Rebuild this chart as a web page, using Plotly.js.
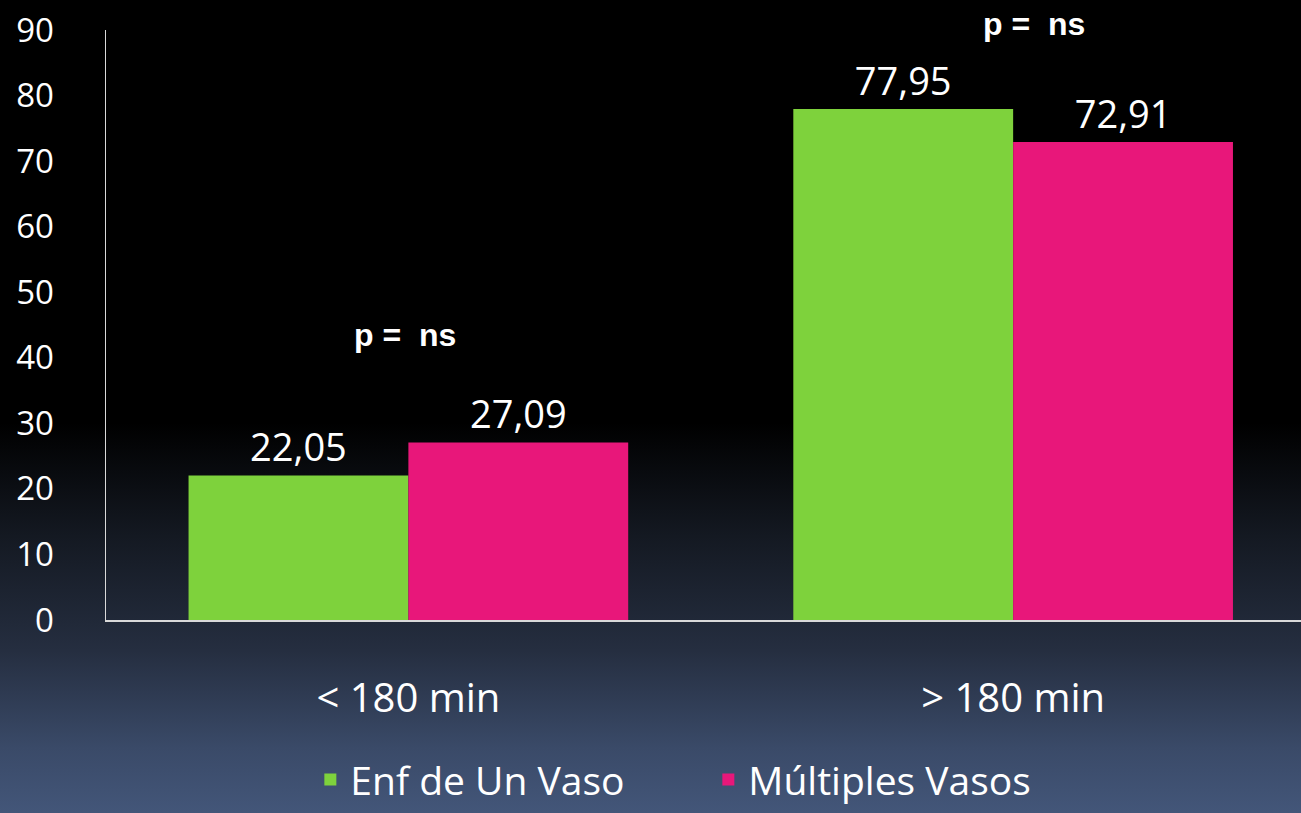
<!DOCTYPE html>
<html>
<head>
<meta charset="utf-8">
<script src="https://cdn.plot.ly/plotly-3.0.1.min.js"></script>
<style>
  html, body { margin: 0; padding: 0; }
  body { width: 1301px; height: 813px; overflow: hidden;
    background: linear-gradient(to bottom, #000000 0%, #000000 52%, #141922 66%, #252e40 80%, #3a4a68 92%, #435679 100%); }
  #chart { width: 1301px; height: 813px; }
</style>
</head>
<body>
<div id="chart"></div>
<script>
const categories = ["< 180 min", "> 180 min"];
const seriesNames = ["Enf de Un Vaso", "Múltiples Vasos"];
const unVaso = [22.05, 77.95];
const multiples = [27.09, 72.91];
const yTicks = [0, 10, 20, 30, 40, 50, 60, 70, 80, 90];
const pLabels = ["p =&nbsp;&nbsp;ns", "p =&nbsp;&nbsp;ns"];
const colors = ["#7ED23C", "#E8177A"];

const labelFont = { family: "Open Sans, Lato, sans-serif", size: 38, color: "#ffffff" };

const traces = [
  { type: "bar", name: seriesNames[0], x: categories, y: unVaso,
    marker: { color: colors[0] }, texttemplate: "%{y:.2f}", textposition: "outside",
    textfont: labelFont, cliponaxis: false, hoverinfo: "skip" },
  { type: "bar", name: seriesNames[1], x: categories, y: multiples,
    marker: { color: colors[1] }, texttemplate: "%{y:.2f}", textposition: "outside",
    textfont: labelFont, cliponaxis: false, hoverinfo: "skip" }
];

const pFont = { family: "Liberation Sans, Arial, sans-serif", size: 32, color: "#ffffff" };
const annotations = [
  { x: 0, y: 0.483, xref: "x", yref: "paper", xshift: -3, yanchor: "middle", text: "<b>" + pLabels[0] + "</b>",
    showarrow: false, font: pFont },
  { x: 1, y: 1.01, xref: "x", yref: "paper", xshift: 21, yanchor: "middle", text: "<b>" + pLabels[1] + "</b>",
    showarrow: false, font: pFont }
];

const layout = {
  width: 1301, height: 813,
  paper_bgcolor: "rgba(0,0,0,0)", plot_bgcolor: "rgba(0,0,0,0)",
  margin: { l: 106, r: 0, t: 30, b: 193 },
  separators: ",.",
  barmode: "group", bargap: 0.273, bargroupgap: 0,
  showlegend: true,
  legend: { orientation: "h", x: 0.171, xref: "paper", xanchor: "left", y: -0.325, yanchor: "bottom",
    font: { family: "Open Sans, sans-serif", size: 39, color: "#ffffff" },
    entrywidth: 353, entrywidthmode: "pixels", borderwidth: 0,
    itemwidth: 30, traceorder: "normal", bgcolor: "rgba(0,0,0,0)" },
  xaxis: { type: "category", range: [-0.5, 1.476], showline: true, linecolor: "#d9d9d9", linewidth: 1.5,
    showgrid: false, zeroline: false, ticks: "", ticklabelstandoff: 42,
    tickfont: { family: "Open Sans, Lato, sans-serif", size: 40, color: "#ffffff" } },
  yaxis: { range: [0, 90], tickvals: yTicks, showline: true, linecolor: "#d9d9d9", linewidth: 1.5,
    showgrid: false, zeroline: false, ticks: "", ticklabelstandoff: 44,
    tickfont: { family: "Open Sans, Lato, sans-serif", size: 33, color: "#ffffff" } },
  annotations: annotations
};

Plotly.newPlot("chart", traces, layout, { displayModeBar: false, staticPlot: true });
</script>
</body>
</html>
